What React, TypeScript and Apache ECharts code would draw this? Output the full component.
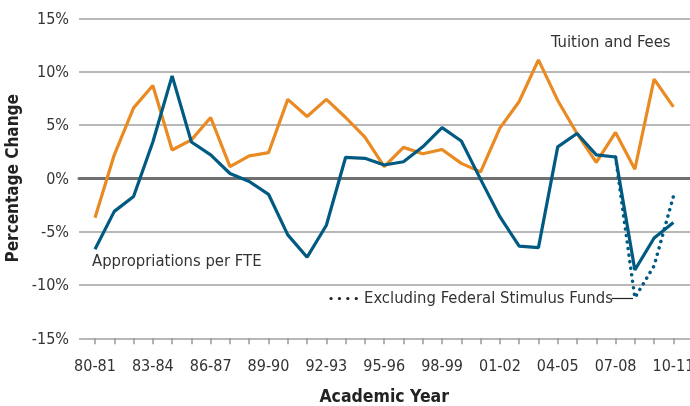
import React, { useEffect, useRef } from "react";
import * as echarts from "echarts";

const years = [
  "80-81", "81-82", "82-83", "83-84", "84-85", "85-86", "86-87", "87-88", "88-89", "89-90",
  "90-91", "91-92", "92-93", "93-94", "94-95", "95-96", "96-97", "97-98", "98-99", "99-00",
  "00-01", "01-02", "02-03", "03-04", "04-05", "05-06", "06-07", "07-08", "08-09", "09-10", "10-11",
];

const tuitionFees = [
  -3.7, 2.2, 6.6, 8.7, 2.65, 3.6, 5.7, 1.1, 2.1, 2.4,
  7.4, 5.8, 7.4, 5.7, 3.85, 1.1, 2.9, 2.3, 2.7, 1.4,
  0.6, 4.7, 7.2, 11.1, 7.3, 4.2, 1.5, 4.3, 0.85, 9.3, 6.7,
];

const appropriations = [
  -6.65, -3.1, -1.7, 3.4, 9.6, 3.4, 2.2, 0.45, -0.3, -1.5,
  -5.3, -7.4, -4.4, 1.97, 1.87, 1.25, 1.55, 2.95, 4.75, 3.5,
  -0.1, -3.6, -6.35, -6.5, 2.95, 4.2, 2.2, 2.0, -8.6, -5.6, -4.15,
];

const excludingStimulus = [
  null, null, null, null, null, null, null, null, null, null,
  null, null, null, null, null, null, null, null, null, null,
  null, null, null, null, null, null, null, 2.0, -11.2, -8.2, -1.7,
];

const yTicks = { min: -15, max: 15, interval: 5 };

const FONT = "'DejaVu Sans Condensed', 'Liberation Sans Narrow', 'Noto Sans', sans-serif";
const ORANGE = "#E98A22";
const BLUE = "#005A82";
const TEXT = "#333333";

export default function App() {
  const ref = useRef<HTMLDivElement>(null);

  useEffect(() => {
    document.body.style.margin = "0";
    if (!ref.current) return;
    const chart = echarts.init(ref.current, undefined, { renderer: "svg" });
    const top = 18.3;
    const bottom = 406 - 338.3;
    chart.setOption({
      animation: false,
      textStyle: { fontFamily: FONT },
      grid: [
        { left: 79, right: 0, top, bottom, outerBoundsMode: "none", containLabel: false },
        { left: 95, right: 16.6, top, bottom, outerBoundsMode: "none", containLabel: false },
      ],
      xAxis: [
        {
          gridIndex: 0,
          type: "value",
          min: 0,
          max: 1,
          axisLine: { show: true, onZero: true, lineStyle: { color: "#707070", width: 3 } },
          axisTick: { show: false },
          axisLabel: { show: false },
          splitLine: { show: false },
        },
        {
          gridIndex: 1,
          type: "category",
          data: years,
          boundaryGap: false,
          axisLine: { show: false, onZero: false },
          axisTick: { show: true, interval: 0, length: 6, lineStyle: { color: "#999999", width: 1.5 } },
          axisLabel: { interval: 2, fontSize: 16, color: TEXT, margin: 19, fontFamily: FONT },
          splitLine: { show: false },
          name: "Academic Year",
          nameLocation: "middle",
          nameGap: 49,
          nameTextStyle: { fontSize: 17.5, fontWeight: "bold", color: "#222", fontFamily: FONT },
        },
      ],
      yAxis: [
        {
          gridIndex: 0,
          type: "value",
          min: yTicks.min,
          max: yTicks.max,
          interval: yTicks.interval,
          axisLine: { show: false },
          axisTick: { show: false },
          axisLabel: { formatter: (v: number) => `${v}%`, fontSize: 16, color: TEXT, margin: 10, fontFamily: FONT },
          splitLine: { show: true, lineStyle: { color: "#A0A0A0", width: 1.5 } },
          name: "Percentage Change",
          nameLocation: "middle",
          nameRotate: 90,
          nameGap: 54,
          nameTextStyle: { fontSize: 17, fontWeight: "bold", color: "#222", fontFamily: FONT },
        },
        {
          gridIndex: 1,
          type: "value",
          min: yTicks.min,
          max: yTicks.max,
          interval: yTicks.interval,
          show: false,
        },
      ],
      series: [
        {
          name: "Tuition and Fees",
          type: "line",
          xAxisIndex: 1,
          yAxisIndex: 1,
          data: tuitionFees,
          symbol: "none",
          lineStyle: { color: ORANGE, width: 3.2 },
          z: 3,
        },
        {
          name: "Excluding Federal Stimulus Funds",
          type: "line",
          xAxisIndex: 1,
          yAxisIndex: 1,
          data: excludingStimulus,
          symbol: "none",
          connectNulls: false,
          lineStyle: { color: BLUE, width: 3.5, type: [0.1, 6.5], cap: "round" },
          z: 4,
        },
        {
          name: "Appropriations per FTE",
          type: "line",
          xAxisIndex: 1,
          yAxisIndex: 1,
          data: appropriations,
          symbol: "none",
          lineStyle: { color: BLUE, width: 3.2 },
          z: 5,
        },
      ],
      graphic: [
        {
          type: "text",
          left: 551,
          top: 33,
          style: { text: "Tuition and Fees", fontSize: 16.5, fill: TEXT, fontFamily: FONT },
        },
        {
          type: "text",
          left: 92,
          top: 252,
          style: { text: "Appropriations per FTE", fontSize: 16.5, fill: TEXT, fontFamily: FONT },
        },
        {
          type: "text",
          left: 364,
          top: 289,
          style: { text: "Excluding Federal Stimulus Funds", fontSize: 16.5, fill: TEXT, fontFamily: FONT },
        },
        {
          type: "line",
          shape: { x1: 331, y1: 298.5, x2: 358, y2: 298.5 },
          style: { stroke: "#222", lineWidth: 3.2, lineDash: [0.1, 8.3], lineCap: "round" },
        },
        {
          type: "line",
          shape: { x1: 612, y1: 298.5, x2: 633, y2: 298.5 },
          style: { stroke: "#222", lineWidth: 1.2 },
        },
      ],
    });
    return () => chart.dispose();
  }, []);

  return <div ref={ref} style={{ position: "fixed", left: 0, top: 0, width: 690, height: 406 }} />;
}
